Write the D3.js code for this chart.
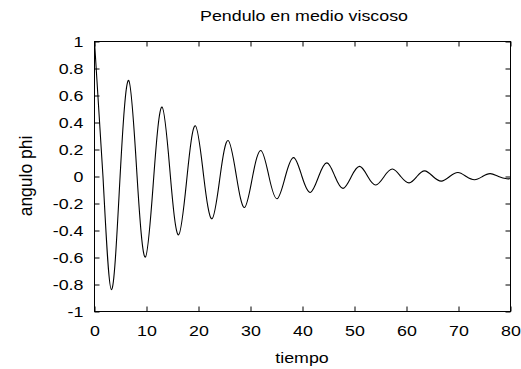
<!DOCTYPE html>
<html>
<head>
<meta charset="utf-8">
<script src="https://cdn.jsdelivr.net/npm/d3@7"></script>
<style>
  html, body { margin: 0; padding: 0; background: #fff; }
  svg { display: block; }
  text { font-family: "Liberation Sans", Arial, sans-serif; fill: #000; }
</style>
</head>
<body>
<svg id="chart" width="521" height="369"></svg>
<script>
// ---- data (extrema and zero crossings) ----
const tiempo = [
  0, 1.63, 3.26, 4.92, 6.58, 8.19, 9.79, 11.4, 13.0, 14.6,
  16.18, 17.8, 19.4, 21.0, 22.6, 24.15, 25.7, 27.3, 28.85, 30.4,
  32.0, 33.55, 35.1, 36.7, 38.3, 39.9, 41.5, 43.1, 44.7, 46.25,
  47.8, 49.4, 51.0, 52.55, 54.1, 55.7, 57.3, 58.9, 60.5, 62.0,
  63.5, 65.1, 66.7, 68.3, 69.9, 71.5, 73.1, 74.6, 76.1, 77.7,
  79.3, 80
];
const anguloPhi = [
  1, 0, -0.839, 0, 0.711, 0, -0.597, 0, 0.514, 0,
  -0.432, 0, 0.376, 0, -0.313, 0, 0.267, 0, -0.229, 0,
  0.193, 0, -0.165, 0, 0.140, 0, -0.118, 0, 0.101, 0,
  -0.088, 0, 0.075, 0, -0.063, 0, 0.055, 0, -0.047, 0,
  0.042, 0, -0.034, 0, 0.030, 0, -0.024, 0, 0.021, 0,
  -0.017, -0.015
];
const xTicks = [0, 10, 20, 30, 40, 50, 60, 70, 80];
const xTickLabels = ["0", "10", "20", "30", "40", "50", "60", "70", "80"];
const yTicks = [-1, -0.8, -0.6, -0.4, -0.2, 0, 0.2, 0.4, 0.6, 0.8, 1];
const yTickLabels = ["-1", "-0.8", "-0.6", "-0.4", "-0.2", "0", "0.2", "0.4", "0.6", "0.8", "1"];
const titleText = "Pendulo en medio viscoso";
const xLabel = "tiempo";
const yLabel = "angulo phi";

// ---- drawing ----
const svg = d3.select("#chart");
const L = 94.5, R = 510.5, T = 41.5, B = 311.5;
const x = d3.scaleLinear().domain([0, 80]).range([L, R]);
const y = d3.scaleLinear().domain([-1, 1]).range([B, T]);
const SX = 1.15;

svg.append("defs").append("clipPath").attr("id", "clip")
  .append("rect").attr("x", L).attr("y", T).attr("width", R - L).attr("height", B - T);

// axes (inward ticks, mirrored)
const gB = svg.append("g").attr("transform", `translate(0,${B})`)
  .call(d3.axisBottom(x).tickValues(xTicks).tickSizeInner(-5).tickSizeOuter(0).tickPadding(14)
    .tickFormat((d, i) => xTickLabels[i]));
const gT = svg.append("g").attr("transform", `translate(0,${T})`)
  .call(d3.axisTop(x).tickValues(xTicks).tickSizeInner(-5).tickSizeOuter(0).tickFormat(""));
const gL = svg.append("g").attr("transform", `translate(${L},0)`)
  .call(d3.axisLeft(y).tickValues(yTicks).tickSizeInner(-5).tickSizeOuter(0).tickPadding(9.6)
    .tickFormat((d, i) => yTickLabels[i]));
const gR = svg.append("g").attr("transform", `translate(${R},0)`)
  .call(d3.axisRight(y).tickValues(yTicks).tickSizeInner(-5).tickSizeOuter(0).tickFormat(""));

[gB, gT, gL, gR].forEach(g => {
  g.select(".domain").remove();
  g.selectAll(".tick line").attr("stroke", "#000").attr("stroke-width", 1);
  g.selectAll(".tick text")
    .attr("font-family", "Liberation Sans, Arial, sans-serif")
    .attr("font-size", "15.5px")
    .attr("fill", "#000")
    .attr("transform", `scale(${SX},1)`);
});
gT.selectAll(".tick text").remove();
gR.selectAll(".tick text").remove();

// frame
svg.append("rect")
  .attr("x", L).attr("y", T).attr("width", R - L).attr("height", B - T)
  .attr("fill", "none").attr("stroke", "#000").attr("stroke-width", 1);

// curve
const pts = tiempo.map((t, i) => [t, anguloPhi[i]]);
const line = d3.line().x(d => x(d[0])).y(d => y(d[1])).curve(d3.curveNatural);
svg.append("path")
  .datum(pts)
  .attr("clip-path", "url(#clip)")
  .attr("d", line)
  .attr("fill", "none")
  .attr("stroke", "#000")
  .attr("stroke-width", 1.1);

// title & labels
svg.append("text")
  .attr("transform", `translate(304,20.7) scale(${SX},1)`)
  .attr("text-anchor", "middle")
  .attr("font-size", "15.5px")
  .text(titleText);

svg.append("text")
  .attr("transform", `translate(302,362.7) scale(${SX},1)`)
  .attr("text-anchor", "middle")
  .attr("font-size", "15.5px")
  .text(xLabel);

svg.append("text")
  .attr("transform", `translate(32,176) rotate(-90) scale(1,1.1)`)
  .attr("text-anchor", "middle")
  .attr("font-size", "17.5px")
  .text(yLabel);
</script>
</body>
</html>
